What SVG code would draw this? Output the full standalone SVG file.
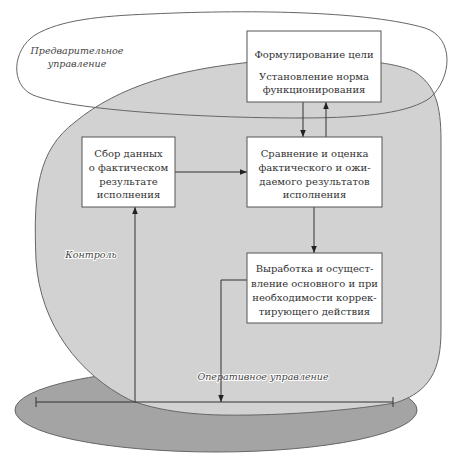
<svg xmlns="http://www.w3.org/2000/svg" width="450" height="462" viewBox="0 0 450 462">
<defs>
<style>
.box{fill:#fff;stroke:#555;stroke-width:1}
.t{font-family:'DejaVu Serif','Liberation Serif',serif;font-size:10px;fill:#333;text-anchor:middle}
.lbl{font-family:'DejaVu Serif','Liberation Serif',serif;font-size:9.5px;font-style:italic;fill:#444;text-anchor:middle}
.halo{paint-order:stroke;stroke:#fff;stroke-width:2;stroke-linejoin:round}
.ln{fill:none;stroke:#333;stroke-width:1}
</style>
<marker id="ah" viewBox="0 0 10 10" refX="10" refY="5" markerWidth="7" markerHeight="7" markerUnits="userSpaceOnUse" orient="auto">
<path d="M0,1 L10,5 L0,9 Z" fill="#222"/>
</marker>
</defs>
<rect width="450" height="462" fill="#fff"/>
<g id="background">
<ellipse id="operational-ellipse" cx="216" cy="410" rx="201" ry="42" fill="#a4a4a4" stroke="#666" stroke-width="1"/>
<path id="preliminary-fill" d="M150,14 C260,9 370,12 425,28 C455,38 452,78 430,98 C410,112 370,118 300,118 C200,118 70,110 33,95 C10,85 12,50 35,35 C60,20 100,16 150,14 Z" fill="#fff"/>
<path id="control-blob" d="M243,63 C300,55 390,58 415,72 C435,85 441,105 441,140 L441,330 C441,370 430,392 395,403 C340,412 270,416 220,415 C180,414 150,408 130,400 C80,375 40,325 36,260 C33,190 38,150 75,122 C120,85 180,70 243,63 Z" fill="#d2d2d2" stroke="#666" stroke-width="1"/>
<path id="preliminary-outline" d="M150,14 C260,9 370,12 425,28 C455,38 452,78 430,98 C410,112 370,118 300,118 C200,118 70,110 33,95 C10,85 12,50 35,35 C60,20 100,16 150,14 Z" fill="none" stroke="#666" stroke-width="1"/>
<g id="timeline" class="ln">
<line x1="36" y1="402" x2="393" y2="402"/>
<line x1="36" y1="397" x2="36" y2="407"/>
<line x1="393" y1="397" x2="393" y2="407"/>
</g>
</g>
<g id="labels">
<text class="lbl" x="77" y="54">Предварительное</text>
<text class="lbl" x="77" y="67">управление</text>
<text class="lbl halo" x="91" y="258">Контроль</text>
<text class="lbl halo" x="263" y="380">Оперативное управление</text>
</g>
<g id="connectors">
<line class="ln" x1="303" y1="102" x2="303" y2="137" marker-end="url(#ah)"/>
<line class="ln" x1="326" y1="137" x2="326" y2="102" marker-end="url(#ah)"/>
<line class="ln" x1="175" y1="172" x2="247" y2="172" marker-end="url(#ah)"/>
<line class="ln" x1="314" y1="207" x2="314" y2="253" marker-end="url(#ah)"/>
<line class="ln" x1="135" y1="402" x2="135" y2="207" marker-end="url(#ah)"/>
<polyline class="ln" points="247,280 221,280 221,402" marker-end="url(#ah)"/>
</g>
<g id="node-goal">
<rect class="box" x="247" y="31" width="134" height="71"/>
<text class="t" x="314" y="58">Формулирование цели</text>
<text class="t" x="314" y="80">Установление норма</text>
<text class="t" x="314" y="93">функционирования</text>
</g>
<g id="node-collect">
<rect class="box" x="82" y="137" width="93" height="70"/>
<text class="t" x="128.5" y="157">Сбор данных</text>
<text class="t" x="128.5" y="171">о фактическом</text>
<text class="t" x="128.5" y="185">результате</text>
<text class="t" x="128.5" y="198">исполнения</text>
</g>
<g id="node-compare">
<rect class="box" x="247" y="137" width="135" height="70"/>
<text class="t" x="314.5" y="157">Сравнение и оценка</text>
<text class="t" x="314.5" y="171">фактического и ожи-</text>
<text class="t" x="314.5" y="185">даемого результатов</text>
<text class="t" x="314.5" y="198">исполнения</text>
</g>
<g id="node-action">
<rect class="box" x="247" y="253" width="135" height="70"/>
<text class="t" x="314.5" y="272">Выработка и осущест-</text>
<text class="t" x="314.5" y="287">вление основного и при</text>
<text class="t" x="314.5" y="301">необходимости коррек-</text>
<text class="t" x="314.5" y="315">тирующего действия</text>
</g>
</svg>
